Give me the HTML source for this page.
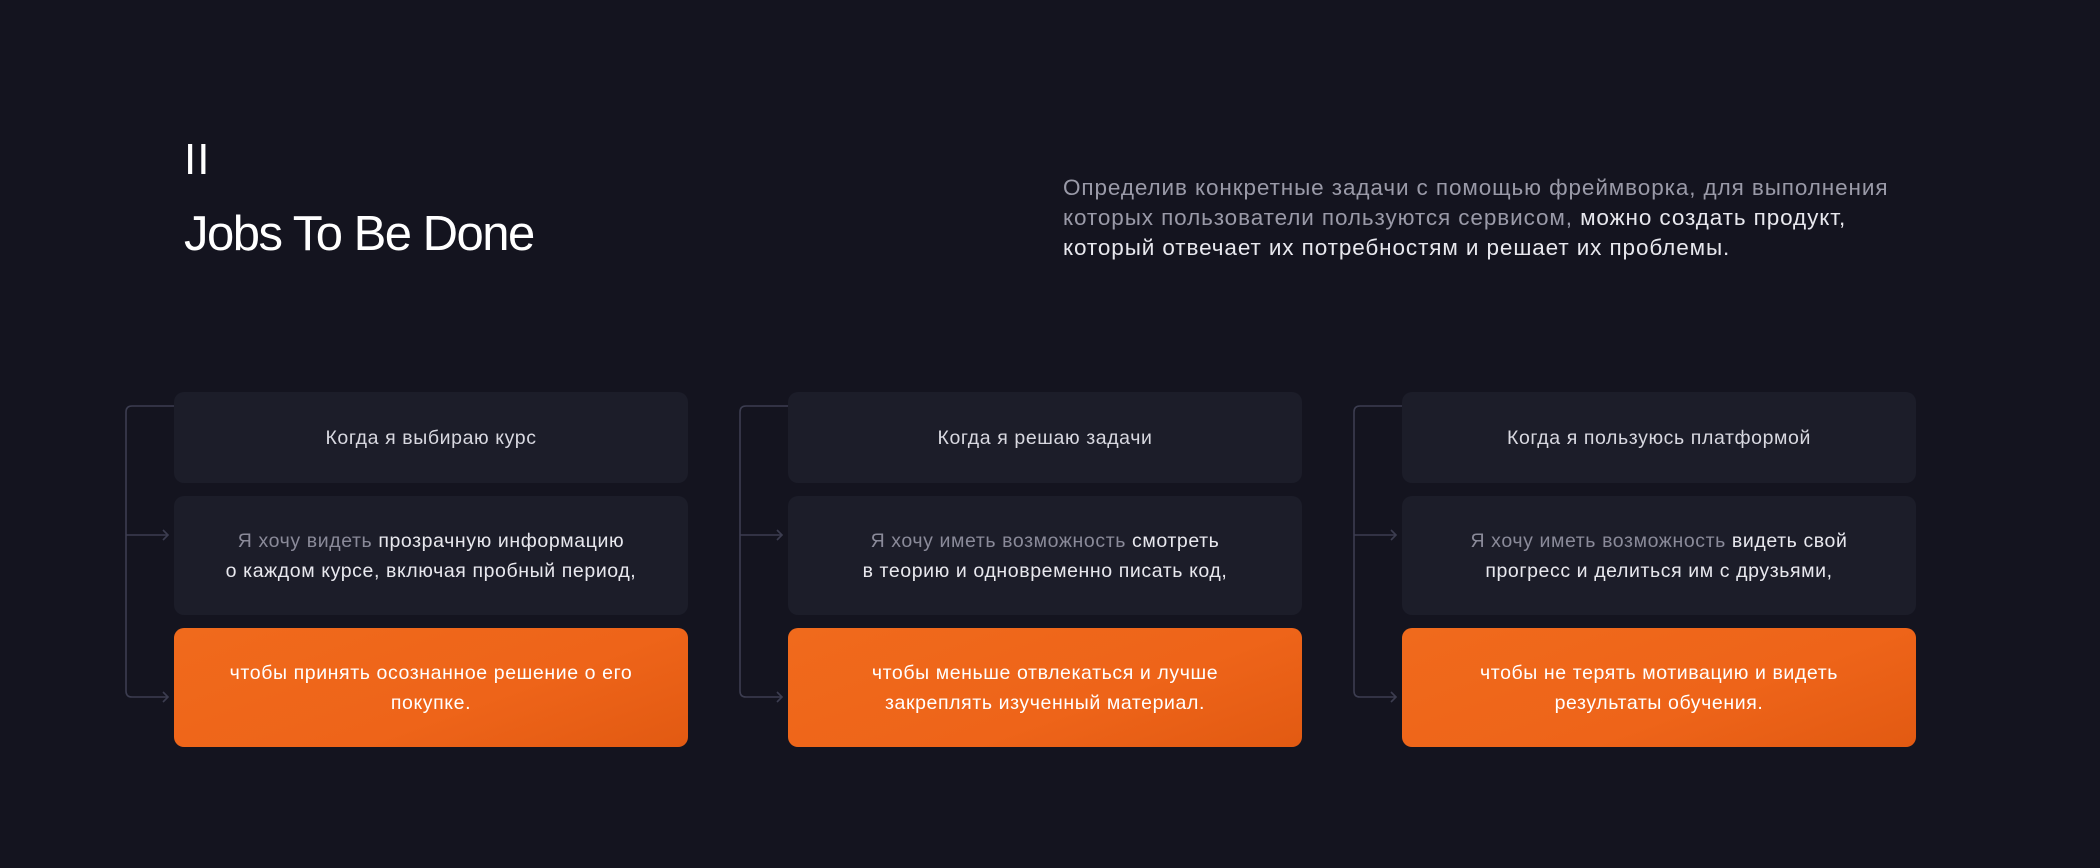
<!DOCTYPE html>
<html><head><meta charset="utf-8"><style>
*{margin:0;padding:0;box-sizing:border-box}
body{width:2100px;height:868px;background:#14141f;font-family:"Liberation Sans","Noto Sans CJK SC",sans-serif;position:relative;overflow:hidden;color:#e8e8ee}
.num{position:absolute;left:184px;top:138px;font-size:44px;color:#fff;line-height:44px;letter-spacing:1px;font-weight:300}
.title{position:absolute;left:184px;top:206px;font-size:49px;color:#fff;letter-spacing:-1.5px;line-height:56px}
.para{position:absolute;left:1063px;top:173px;font-size:22.5px;line-height:30px;color:#9a9aa8;letter-spacing:0.9px;white-space:nowrap}
.para b{font-weight:normal;color:#e8e8ee}
.box{position:absolute;width:514px;border-radius:10px;background:#1c1d29;display:flex;align-items:center;justify-content:center;text-align:center;font-size:19.5px;letter-spacing:0.6px;line-height:30px}
.b1{height:91px;top:392px;color:#d8d8e0}
.b2{height:119px;top:496px;color:#8a8a99}
.b2 b{font-weight:normal;color:#e8e8ee}
.b3{height:119px;top:628px;background:linear-gradient(160deg,#f06a1c 0%,#ee6419 60%,#e25a12 100%);color:#fff}
</style></head><body>
<div class="num">II</div>
<div class="title">Jobs To Be Done</div>
<div class="para">Определив конкретные задачи с помощью фреймворка, для выполнения<br>которых пользователи пользуются сервисом, <b>можно создать продукт,</b><br><b>который отвечает их потребностям и решает их проблемы.</b></div>

<svg width="2100" height="868" style="position:absolute;left:0;top:0">
<g fill="none" stroke="#3c3d50" stroke-width="1.6">
<path d="M174 406 H132 Q126 406 126 412 V691 Q126 697 132 697 H168 M126 535 H168"/>
<path d="M163 530 L168 535 L163 540 M163 692 L168 697 L163 702"/>
<path d="M788 406 H746 Q740 406 740 412 V691 Q740 697 746 697 H782 M740 535 H782"/>
<path d="M777 530 L782 535 L777 540 M777 692 L782 697 L777 702"/>
<path d="M1402 406 H1360 Q1354 406 1354 412 V691 Q1354 697 1360 697 H1396 M1354 535 H1396"/>
<path d="M1391 530 L1396 535 L1391 540 M1391 692 L1396 697 L1391 702"/>
</g></svg>

<div class="box b1" style="left:174px">Когда я выбираю курс</div>
<div class="box b2" style="left:174px"><div>Я хочу видеть <b>прозрачную информацию<br>о каждом курсе, включая пробный период,</b></div></div>
<div class="box b3" style="left:174px"><div>чтобы принять осознанное решение о его<br>покупке.</div></div>

<div class="box b1" style="left:788px">Когда я решаю задачи</div>
<div class="box b2" style="left:788px"><div>Я хочу иметь возможность <b>смотреть<br>в теорию и одновременно писать код,</b></div></div>
<div class="box b3" style="left:788px"><div>чтобы меньше отвлекаться и лучше<br>закреплять изученный материал.</div></div>

<div class="box b1" style="left:1402px">Когда я пользуюсь платформой</div>
<div class="box b2" style="left:1402px"><div>Я хочу иметь возможность <b>видеть свой<br>прогресс и делиться им с друзьями,</b></div></div>
<div class="box b3" style="left:1402px"><div>чтобы не терять мотивацию и видеть<br>результаты обучения.</div></div>
</body></html>
